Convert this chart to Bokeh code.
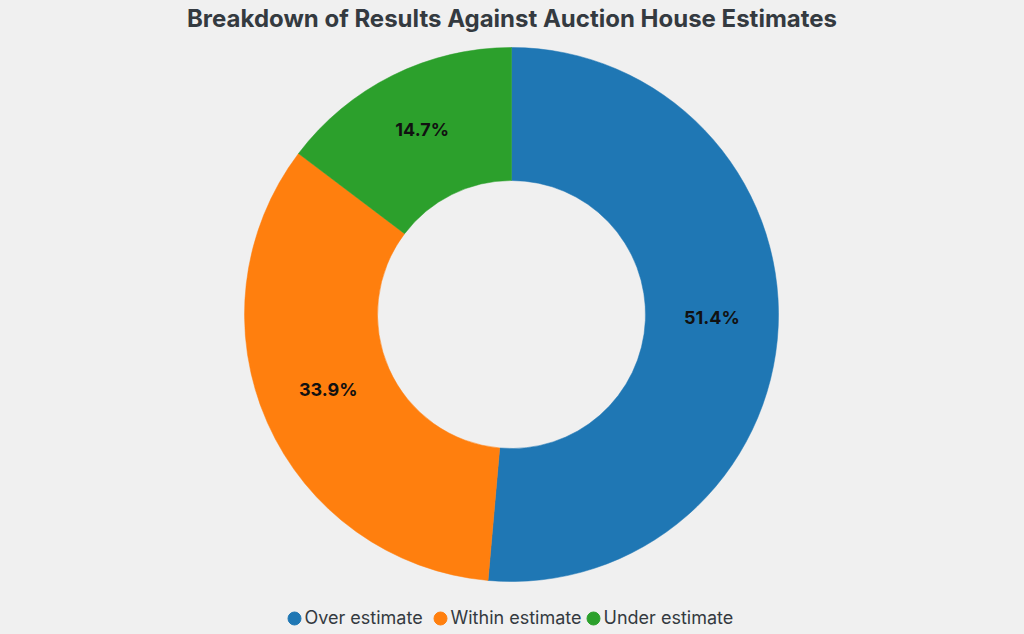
import math
from bokeh.plotting import figure
from bokeh.models import ColumnDataSource, Range1d
from bokeh.core.properties import value
from bokeh.embed import file_html
from bokeh.resources import INLINE

title_text = "Breakdown of Results Against Auction House Estimates"
categories = ["Over estimate", "Within estimate", "Under estimate"]
shares = [51.4, 33.9, 14.7]
colors = ["#1f77b4", "#ff7f0e", "#2ca02c"]

W, H = 1024, 634
BG = "#f0f0f0"
cx, cy = 511, H - 314
r_out, r_in = 267, 134

total = sum(shares)
starts, ends, lx, ly, labels = [], [], [], [], []
cum = 0.0
for s in shares:
    a0 = math.pi / 2 - 2 * math.pi * cum / total
    cum += s
    a1 = math.pi / 2 - 2 * math.pi * cum / total
    starts.append(a0)
    ends.append(a1)
    mid = (a0 + a1) / 2
    rm = (r_in + r_out) / 2
    lx.append(cx + rm * math.cos(mid))
    ly.append(cy + rm * math.sin(mid) + 6)
    labels.append(f"{s:.1f}%")

src = ColumnDataSource(dict(cat=categories, start=starts, end=ends, color=colors,
                            lx=lx, ly=ly, label=labels))

p = figure(width=W, height=H, output_backend="svg", toolbar_location=None,
           x_range=Range1d(0, W), y_range=Range1d(0, H), min_border=0,
           background_fill_color=BG, border_fill_color=BG, outline_line_color=None)
p.axis.visible = False
p.grid.visible = False

p.annular_wedge(x=cx, y=cy, inner_radius=r_in, outer_radius=r_out,
                start_angle="start", end_angle="end", direction="clock",
                fill_color="color", line_color="color", line_width=0.5, source=src)

p.text(x="lx", y="ly", text="label", source=src, text_align="center",
       text_baseline="middle", text_font=value("Inter"), text_font_style="bold",
       text_font_size="18px", text_color="#111111")

p.text(x=[W / 2 - 0.5], y=[H - 18], text=[title_text], text_align="center",
       text_baseline="middle", text_font=value("Inter"), text_font_style="bold",
       text_font_size="24px", text_color="#343a40")

# manual legend (layout positions in screen pixels)
leg_marker_x = [294, 440, 593]
leg_y = H - 618
leg_src = ColumnDataSource(dict(mx=leg_marker_x, tx=[m + 10 for m in leg_marker_x],
                                y=[leg_y] * 3, ty=[leg_y + 1] * 3,
                                cat=categories, color=colors))
p.scatter(x="mx", y="y", size=13, marker="circle", fill_color="color",
          line_color="color", source=leg_src)
p.text(x="tx", y="ty", text="cat", source=leg_src, text_align="left",
       text_baseline="middle", text_font=value("Inter"), text_font_size="18px",
       text_color="#343a40")

html = file_html(p, INLINE)
html = html.replace("<head>", "<head><style>html,body{background:#f0f0f0;}</style>", 1)
open("out.html", "w").write(html)
